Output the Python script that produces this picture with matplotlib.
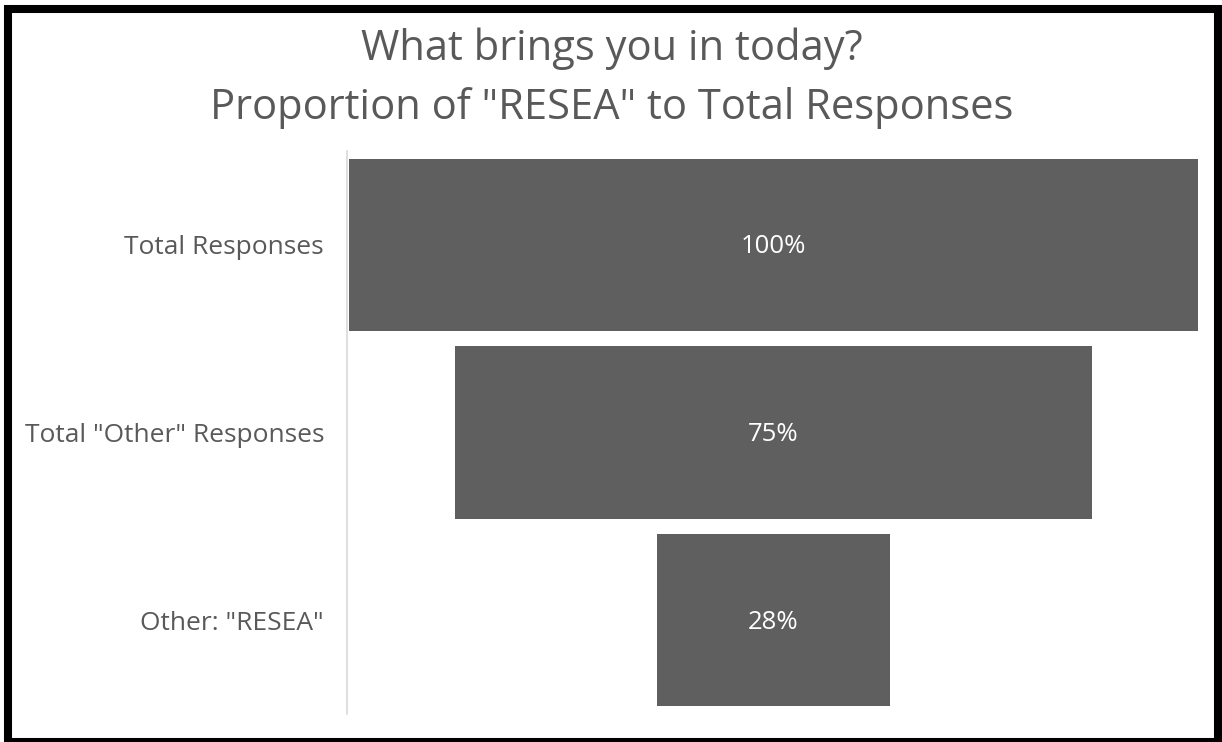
import numpy as np
import matplotlib.pyplot as plt
from matplotlib.patches import Rectangle

plt.rcParams['font.family'] = ['Open Sans', 'DejaVu Sans']

categorias = ['Total Responses', 'Total "Other" Responses', 'Other: "RESEA"']
valores = [100, 75, 27.5]
rotulos = ['100%', '75%', '28%']

cor_barra = '#5f5f5f'
cor_texto = '#595959'

fig = plt.figure(figsize=(12.22, 7.42), dpi=100)
W, H = 1222, 742

# moldura preta em volta (a de baixo fica meio cortada, como no original)
fig.patches.append(Rectangle((8 / W, 1 - 742 / H), (1218 - 8) / W, (742 - 8.5) / H, transform=fig.transFigure,
                             fill=False, edgecolor='black', linewidth=5.8, zorder=0))

ax = fig.add_axes([347 / W, 1 - 714 / H, (1198 - 347) / W, (714 - 151) / H])

maximo = max(valores)
y = np.arange(len(valores))
esq = [(maximo - v) / 2 for v in valores]
ax.barh(y, valores, left=esq, height=0.92, color=cor_barra)
for yi, e, v, r in zip(y, esq, valores, rotulos):
    ax.text(e + v / 2, yi + 0.01, r, ha='center', va='center', color='white', fontsize=18.5)

ax.set_xlim(-0.25, maximo)
ax.set_ylim(len(valores) - 0.5, -0.5)
ax.set_yticks(y)
ax.set_yticklabels(categorias, fontsize=19, color=cor_texto)
ax.tick_params(axis='y', length=0, pad=16.5)
ax.set_xticks([])
for s in ['top', 'right', 'bottom']:
    ax.spines[s].set_visible(False)
ax.spines['left'].set_color('#d9d9d9')
ax.spines['left'].set_linewidth(1.2)

fig.text(612 / W, 1 - 49 / H, 'What brings you in today?', ha='center', va='center',
         fontsize=30, color=cor_texto)
fig.text(612 / W, 1 - 108 / H, 'Proportion of "RESEA" to Total Responses', ha='center', va='center',
         fontsize=30, color=cor_texto)

fig.savefig('out.png', dpi=100)
